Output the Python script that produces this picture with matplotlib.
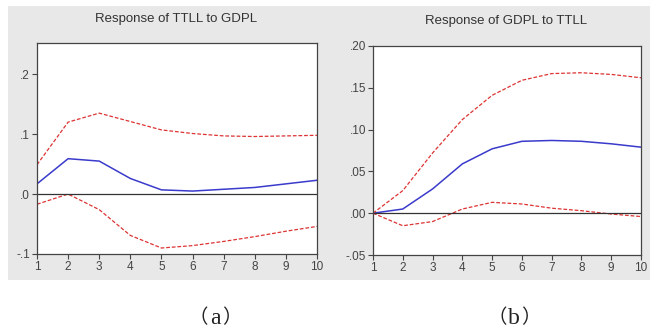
import numpy as np
from matplotlib import pyplot as plt
from matplotlib.patches import Rectangle

periods = [1, 2, 3, 4, 5, 6, 7, 8, 9, 10]

# Response of TTLL to GDPL
ttll_resp = [0.017, 0.059, 0.055, 0.026, 0.007, 0.005, 0.008, 0.011, 0.017, 0.023]
ttll_upper = [0.049, 0.120, 0.135, 0.121, 0.107, 0.101, 0.097, 0.096, 0.097, 0.098]
ttll_lower = [-0.017, 0.000, -0.026, -0.069, -0.090, -0.086, -0.079, -0.071, -0.062, -0.054]

# Response of GDPL to TTLL
gdpl_resp = [0.000, 0.005, 0.029, 0.059, 0.077, 0.086, 0.087, 0.086, 0.083, 0.079]
gdpl_upper = [0.000, 0.027, 0.072, 0.112, 0.141, 0.159, 0.167, 0.168, 0.166, 0.162]
gdpl_lower = [0.000, -0.015, -0.010, 0.005, 0.013, 0.011, 0.006, 0.003, -0.001, -0.004]

ttll_ticks = [-0.1, 0.0, 0.1, 0.2]
ttll_labels = ['-.1', '.0', '.1', '.2']
gdpl_ticks = [-0.05, 0.0, 0.05, 0.10, 0.15, 0.20]
gdpl_labels = ['-.05', '.00', '.05', '.10', '.15', '.20']

W, H = 656, 334
fig = plt.figure(figsize=(W / 100, H / 100), dpi=100)
fig.patch.set_facecolor('white')
fig.patches.append(Rectangle((8 / W, 1 - 280 / H), 642 / W, 274 / H,
                             transform=fig.transFigure, facecolor='#e8e8e8',
                             edgecolor='none', zorder=-5))


def draw_panel(rect, resp, upper, lower, ticks, labels, ylim, title, title_x, title_y):
    ax = fig.add_axes(rect)
    ax.set_facecolor('white')
    ax.plot(periods, resp, color='#3a3acc', lw=1.1)
    ax.plot(periods, upper, color='#dd3333', lw=0.9, ls=(0, (3, 1.5)))
    ax.plot(periods, lower, color='#dd3333', lw=0.9, ls=(0, (3, 1.5)))
    ax.axhline(0, color='#333333', lw=0.9)
    ax.set_xlim(1, 10)
    ax.set_ylim(*ylim)
    ax.set_xticks(periods)
    ax.set_yticks(ticks)
    ax.set_yticklabels(labels)
    ax.tick_params(labelsize=8.5, length=3.5, width=0.8, colors='#444444',
                   direction='out', pad=1.5)
    for lab in ax.get_xticklabels() + ax.get_yticklabels():
        lab.set_family('Liberation Sans')
    for s in ax.spines.values():
        s.set_color('#444444')
        s.set_linewidth(0.9)
    fig.text(title_x / W, 1 - title_y / H, title, ha='center', va='center',
             fontsize=9.5, family='Liberation Sans', color='#333333')
    return ax


draw_panel([37 / W, 1 - 254 / H, 280 / W, 211 / H], ttll_resp, ttll_upper, ttll_lower,
           ttll_ticks, ttll_labels, (-0.1, 0.252), 'Response of TTLL to GDPL', 176, 19)
draw_panel([373 / W, 1 - 255 / H, 268 / W, 209 / H], gdpl_resp, gdpl_upper, gdpl_lower,
           gdpl_ticks, gdpl_labels, (-0.05, 0.20), 'Response of GDPL to TTLL', 506, 21)


def caption(letter, cx, cy):
    y = 1 - cy / H
    fig.text(cx / W, y, letter, ha='center', va='center', fontsize=17,
             family='Liberation Serif', color='#222222')
    fig.text((cx - 7) / W, y, '（', ha='right', va='center', fontsize=14,
             family='Noto Sans CJK SC', color='#222222')
    fig.text((cx + 7) / W, y, '）', ha='left', va='center', fontsize=14,
             family='Noto Sans CJK SC', color='#222222')


caption('a', 215, 318)
caption('b', 514, 318)

fig.savefig('out.png', dpi=100)
